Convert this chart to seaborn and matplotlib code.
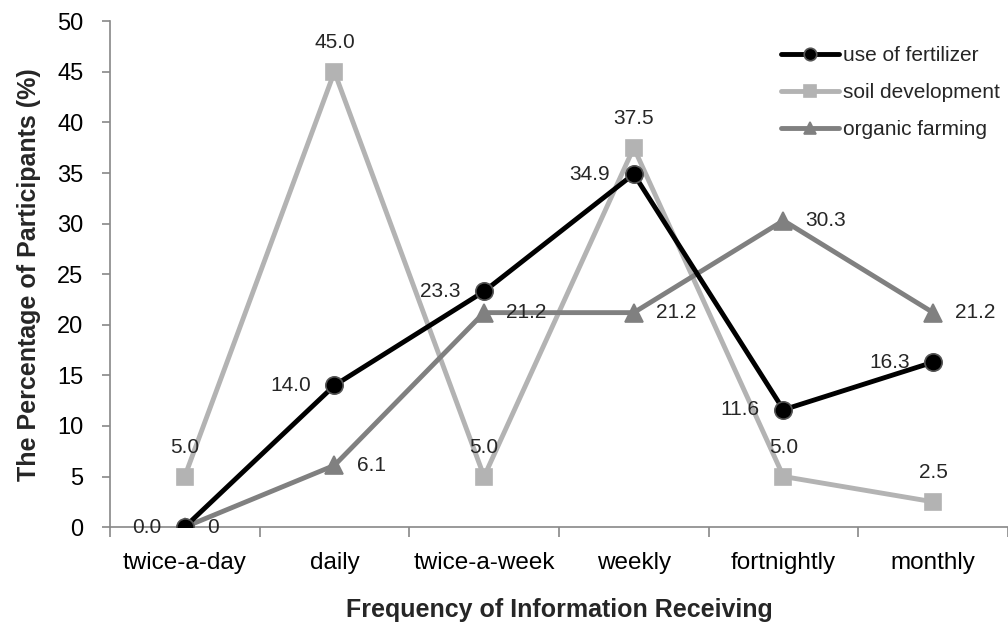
import matplotlib
matplotlib.use("Agg")
import matplotlib.pyplot as plt
import seaborn as sns
import pandas as pd

categories = ["twice-a-day", "daily", "twice-a-week", "weekly", "fortnightly", "monthly"]
fertilizer = [0.0, 14.0, 23.3, 34.9, 11.6, 16.3]
soil = [5.0, 45.0, 5.0, 37.5, 5.0, 2.5]
organic = [0.0, 6.1, 21.2, 21.2, 30.3, 21.2]
fert_labels = ["0.0", "14.0", "23.3", "34.9", "11.6", "16.3"]
soil_labels = ["5.0", "45.0", "5.0", "37.5", "5.0", "2.5"]
org_labels = ["0", "6.1", "21.2", "21.2", "30.3", "21.2"]
series_names = ["use of fertilizer", "soil development", "organic farming"]

sns.set_theme(style="white")
plt.rcParams["font.family"] = ["Liberation Sans", "DejaVu Sans"]

rows = []
for name, vals in zip(series_names, [fertilizer, soil, organic]):
    for i, v in enumerate(vals):
        rows.append({"pos": i, "cat": categories[i], "value": v, "series": name})
df = pd.DataFrame(rows)

fig = plt.figure(figsize=(10.08, 6.26), dpi=100)
ax = fig.add_axes([0.109, 0.158, 0.891, 0.808])

colors = {"use of fertilizer": "#000000", "soil development": "#b3b3b3", "organic farming": "#808080"}
markers = {"use of fertilizer": "o", "soil development": "s", "organic farming": "^"}
edges = {"use of fertilizer": "#555555", "soil development": "#b3b3b3", "organic farming": "#808080"}
zorders = {"use of fertilizer": 4, "soil development": 2, "organic farming": 3}
msize = {"use of fertilizer": 12.5, "soil development": 12, "organic farming": 13}

for name in ["soil development", "organic farming", "use of fertilizer"]:
    sub = df[df["series"] == name]
    sns.lineplot(data=sub, x="pos", y="value", color=colors[name], marker=markers[name],
                 markersize=msize[name], markeredgecolor=edges[name], markeredgewidth=1.2,
                 linewidth=3.5, ax=ax, label=name, zorder=zorders[name])

fs = 15
for i, (v, t) in enumerate(zip(fertilizer, fert_labels)):
    ax.annotate(t, (i, v), xytext=(-17, 0), textcoords="offset points", ha="right", va="center", fontsize=fs, zorder=6)
for i, (v, t) in enumerate(zip(soil, soil_labels)):
    ax.annotate(t, (i, v), xytext=(0, 14), textcoords="offset points", ha="center", va="bottom", fontsize=fs, zorder=6)
for i, (v, t) in enumerate(zip(organic, org_labels)):
    ax.annotate(t, (i, v), xytext=(16, 0), textcoords="offset points", ha="left", va="center", fontsize=fs, zorder=6)

ax.set_xlim(-0.5, 5.5)
ax.set_ylim(0, 50)
ax.set_yticks(range(0, 51, 5))
ax.set_xticks(range(6))
ax.set_xticklabels(categories)
ax.set_xticks([x - 0.5 for x in range(7)], minor=True)
ax.tick_params(axis="x", which="major", length=0, pad=18, labelsize=17.5, colors="black")
ax.tick_params(axis="x", which="minor", length=7, width=1.2, color="#888888", direction="out", bottom=True)
ax.tick_params(axis="y", length=6, width=1.2, color="#888888", direction="out", left=True, labelsize=17, pad=13, labelcolor="black")

for s in ["top", "right"]:
    ax.spines[s].set_visible(False)
for s in ["left", "bottom"]:
    ax.spines[s].set_color("#888888")
    ax.spines[s].set_linewidth(1.2)

ax.set_xlabel("Frequency of Information Receiving", fontsize=18, fontweight="bold", labelpad=17)
ax.set_ylabel("The Percentage of Participants (%)", fontsize=18, fontweight="bold", labelpad=12)

handles, labels = ax.get_legend_handles_labels()
order = [labels.index(n) for n in series_names]
leg = ax.legend([handles[i] for i in order], [labels[i] for i in order], loc="upper right",
                bbox_to_anchor=(1.005, 0.975), frameon=False, fontsize=15, handlelength=2.8,
                handletextpad=0.2, labelspacing=0.85, borderaxespad=0.2)
for h in leg.legend_handles:
    h.set_markersize(9)

fig.savefig("out.png", dpi=100)
